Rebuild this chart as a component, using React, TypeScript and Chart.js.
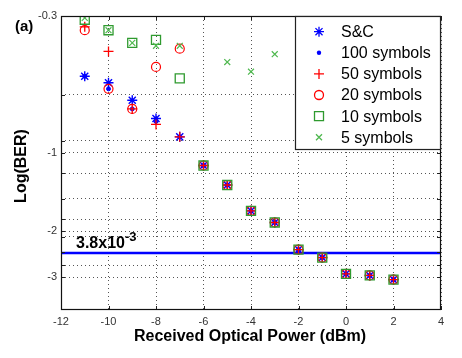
import React, { useEffect, useRef } from 'react';
import { Chart, registerables } from 'chart.js';

Chart.register(...registerables);

// ---- data (Log(BER) values) ----
const powers = [-11, -10, -9, -8, -7, -6, -5, -4, -3, -2, -1, 0, 1, 2];
const scLogBER = [-0.51, -0.54, -0.63, -0.74, -0.87, -1.12, -1.33, -1.67, -1.85, -2.35, -2.52, -2.91, -2.95, -3.06];
const sym100LogBER = [-0.51, -0.57, -0.68, -0.76, -0.87, -1.12, -1.33, -1.67, -1.85, -2.35, -2.52, -2.91, -2.95, -3.06];
const sym50LogBER = [-0.33, -0.41, -0.68, -0.78, -0.87, -1.12, -1.33, -1.67, -1.85, -2.35, -2.52, -2.91, -2.95, -3.06];
const sym20LogBER = [-0.34, -0.57, -0.68, -0.47, -0.4, -1.12, -1.33, -1.67, -1.85, -2.35, -2.52, -2.91, -2.95, -3.06];
const sym10LogBER = [-0.31, -0.34, -0.38, -0.37, -0.52, -1.12, -1.33, -1.67, -1.85, -2.35, -2.52, -2.91, -2.95, -3.06];
const powers5 = [-11, -10, -9, -8, -7, -5, -4, -3];
const sym5LogBER = [-0.305, -0.34, -0.38, -0.39, -0.39, -0.45, -0.49, -0.42];
const thresholdLogBER = -2.42;

const xTickValues = [-12, -10, -8, -6, -4, -2, 0, 2, 4];
const yTickValues = [0.3, 0.6, 0.9, 1, 1.2, 1.5, 1.8, 2, 2.1, 2.4, 2.7, 3];
const yLabelledTicks = [0.3, 1, 2, 3];

const FONT = "'Liberation Sans', Arial, sans-serif";

type Style = 'star' | 'circle' | 'cross' | 'rect' | 'crossRot' | 'dot';
const legendItems: { label: string; style: Style; color: string }[] = [
  { label: 'S&C', style: 'star', color: '#0000ff' },
  { label: '100 symbols', style: 'dot', color: '#0000ff' },
  { label: '50 symbols', style: 'cross', color: '#ff0000' },
  { label: '20 symbols', style: 'circle', color: '#ff0000' },
  { label: '10 symbols', style: 'rect', color: '#2f9a2f' },
  { label: '5 symbols', style: 'crossRot', color: '#4fb84f' },
];

function drawMarker(ctx: CanvasRenderingContext2D, style: Style, x: number, y: number, color: string) {
  ctx.save();
  ctx.strokeStyle = color;
  ctx.fillStyle = color;
  ctx.lineWidth = 1.3;
  ctx.beginPath();
  if (style === 'star') {
    const r = 5;
    const d = r * Math.SQRT1_2;
    ctx.moveTo(x - r, y); ctx.lineTo(x + r, y);
    ctx.moveTo(x, y - r); ctx.lineTo(x, y + r);
    ctx.moveTo(x - d, y - d); ctx.lineTo(x + d, y + d);
    ctx.moveTo(x - d, y + d); ctx.lineTo(x + d, y - d);
    ctx.stroke();
  } else if (style === 'dot') {
    ctx.arc(x, y, 2.2, 0, Math.PI * 2);
    ctx.fill();
  } else if (style === 'cross') {
    const r = 5;
    ctx.moveTo(x - r, y); ctx.lineTo(x + r, y);
    ctx.moveTo(x, y - r); ctx.lineTo(x, y + r);
    ctx.stroke();
  } else if (style === 'circle') {
    ctx.arc(x, y, 4.5, 0, Math.PI * 2);
    ctx.stroke();
  } else if (style === 'rect') {
    ctx.rect(x - 4.5, y - 4.5, 9, 9);
    ctx.stroke();
  } else if (style === 'crossRot') {
    const d = 3;
    ctx.moveTo(x - d, y - d); ctx.lineTo(x + d, y + d);
    ctx.moveTo(x - d, y + d); ctx.lineTo(x + d, y - d);
    ctx.stroke();
  }
  ctx.restore();
}

const decoPlugin = {
  id: 'deco',
  afterDraw(chart: any) {
    const { ctx, chartArea: a, scales } = chart;
    const xs = scales.x;
    const ys = scales.y;
    ctx.save();

    // inner tick marks
    ctx.strokeStyle = '#222';
    ctx.lineWidth = 1;
    ctx.beginPath();
    xTickValues.forEach((v) => {
      const px = Math.round(xs.getPixelForValue(v)) + 0.5;
      ctx.moveTo(px, a.bottom); ctx.lineTo(px, a.bottom - 4);
      ctx.moveTo(px, a.top); ctx.lineTo(px, a.top + 4);
    });
    yTickValues.forEach((v) => {
      const py = Math.round(ys.getPixelForValue(v)) + 0.5;
      ctx.moveTo(a.left, py); ctx.lineTo(a.left + 4, py);
      ctx.moveTo(a.right, py); ctx.lineTo(a.right - 4, py);
    });
    ctx.stroke();

    // axes box
    ctx.strokeStyle = '#111';
    ctx.lineWidth = 1.2;
    ctx.strokeRect(a.left + 0.5, a.top + 0.5, a.right - a.left - 1, a.bottom - a.top - 1);

    // threshold label
    const ty = ys.getPixelForValue(-thresholdLogBER);
    ctx.fillStyle = '#000';
    ctx.textBaseline = 'alphabetic';
    ctx.textAlign = 'left';
    ctx.font = `bold 16px ${FONT}`;
    const base = '3.8x10';
    const bx = a.left + 15;
    ctx.fillText(base, bx, ty - 5);
    const bw = ctx.measureText(base).width;
    ctx.font = `bold 13px ${FONT}`;
    ctx.fillText('-3', bx + bw, ty - 12);

    // legend
    const lw = 146;
    const lh = 134;
    const lx = a.right - lw;
    const ly = a.top;
    ctx.fillStyle = '#fff';
    ctx.fillRect(lx, ly, lw, lh);
    ctx.strokeStyle = '#222';
    ctx.lineWidth = 1.2;
    ctx.strokeRect(lx + 0.5, ly + 0.5, lw - 1, lh - 1);
    ctx.font = `16px ${FONT}`;
    ctx.textBaseline = 'middle';
    legendItems.forEach((it, i) => {
      const cy = ly + 15.7 + i * 21.1;
      drawMarker(ctx, it.style, lx + 24, cy, it.color);
      ctx.fillStyle = '#000';
      ctx.fillText(it.label, lx + 46, cy + 1);
    });

    // axis titles
    ctx.fillStyle = '#000';
    ctx.font = `bold 16px ${FONT}`;
    ctx.textAlign = 'center';
    ctx.textBaseline = 'middle';
    ctx.fillText('Received Optical Power (dBm)', (a.left + a.right) / 2 - 1, 337);
    ctx.save();
    ctx.translate(22, (a.top + a.bottom) / 2 + 3);
    ctx.rotate(-Math.PI / 2);
    ctx.fillText('Log(BER)', 0, 0);
    ctx.restore();

    // panel label
    ctx.textAlign = 'left';
    ctx.font = `bold 15px ${FONT}`;
    ctx.fillText('(a)', 15, 27);

    ctx.restore();
  },
};

function series(label: string, xsv: number[], ysv: number[], style: string, color: string, radius: number, width: number, fill?: string) {
  return {
    type: 'scatter' as const,
    label,
    data: xsv.map((x, i) => ({ x, y: -ysv[i] })),
    showLine: false,
    pointStyle: style,
    pointRadius: radius,
    pointHoverRadius: radius,
    pointBorderColor: color,
    pointBackgroundColor: fill ?? 'rgba(0,0,0,0)',
    pointBorderWidth: width,
  };
}

export default function App() {
  const ref = useRef<HTMLCanvasElement | null>(null);

  useEffect(() => {
    if (!ref.current) return;
    const chart = new Chart(ref.current, {
      type: 'scatter',
      data: {
        datasets: [
          {
            type: 'line',
            label: 'threshold',
            data: [{ x: -12, y: -thresholdLogBER }, { x: 4, y: -thresholdLogBER }],
            borderColor: '#0000ff',
            borderWidth: 2.6,
            pointRadius: 0,
            fill: false,
            order: 10,
          } as any,
          { ...series('5 symbols', powers5, sym5LogBER, 'crossRot', '#4fb84f', 4.2, 1.2), order: 1 },
          { ...series('10 symbols', powers, sym10LogBER, 'rect', '#2f9a2f', 6.4, 1.3), order: 2 },
          { ...series('20 symbols', powers, sym20LogBER, 'circle', '#ff0000', 4.5, 1.2), order: 3 },
          { ...series('50 symbols', powers, sym50LogBER, 'cross', '#ff0000', 5, 1.3), order: 4 },
          { ...series('100 symbols', powers, sym100LogBER, 'circle', '#0000ff', 2, 1, '#0000ff'), order: 5 },
          { ...series('S&C', powers, scLogBER, 'star', '#0000ff', 5, 1.4), order: 6 },
        ],
      },
      options: {
        animation: false,
        responsive: false,
        maintainAspectRatio: false,
        events: [],
        layout: { padding: { top: 16, right: 21, left: 0, bottom: 0 } },
        font: { family: FONT },
        plugins: { legend: { display: false }, tooltip: { enabled: false } },
        scales: {
          x: {
            type: 'linear',
            min: -12,
            max: 4,
            afterBuildTicks: (s: any) => {
              s.ticks = xTickValues.map((v) => ({ value: v }));
            },
            afterFit: (s: any) => {
              s.height = 48;
            },
            ticks: {
              callback: (v: any) => String(v),
              font: { size: 11, family: FONT },
              color: '#333',
              padding: 5,
              autoSkip: false,
              maxRotation: 0,
            },
            grid: { color: '#555', lineWidth: 1, drawTicks: false, borderDash: [1, 3] } as any,
            border: { display: false, dash: [1, 3] },
          },
          y: {
            type: 'logarithmic',
            min: 0.3,
            max: 4,
            reverse: true,
            afterBuildTicks: (s: any) => {
              s.ticks = yTickValues.map((v) => ({ value: v }));
            },
            afterFit: (s: any) => {
              s.width = 61;
            },
            ticks: {
              callback: (v: any) => (yLabelledTicks.includes(Number(v)) ? '-' + v : ''),
              font: { size: 11, family: FONT },
              color: '#333',
              padding: 4,
              autoSkip: false,
            },
            grid: { color: '#555', lineWidth: 1, drawTicks: false, borderDash: [1, 3] } as any,
            border: { display: false, dash: [1, 3] },
          },
        },
      } as any,
      plugins: [decoPlugin],
    });
    return () => chart.destroy();
  }, []);

  return (
    <div style={{ position: 'fixed', left: 0, top: 0, width: 462, height: 358, background: '#fff' }}>
      <canvas ref={ref} width={462} height={358} style={{ display: 'block', width: 462, height: 358 }} />
    </div>
  );
}
